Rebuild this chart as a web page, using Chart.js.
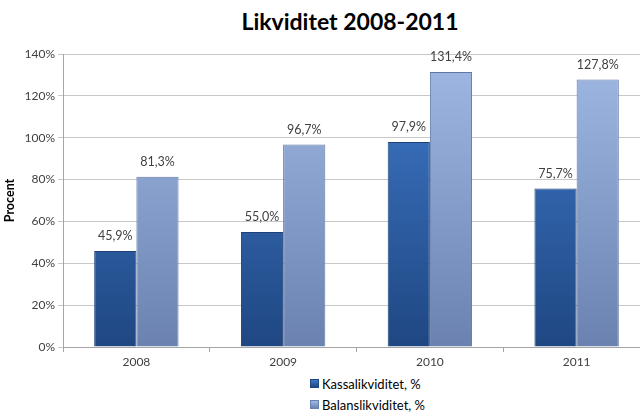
<!DOCTYPE html>
<html>
<head>
<meta charset="utf-8">
<script src="https://cdn.jsdelivr.net/npm/chart.js@4.4.1/dist/chart.umd.min.js"></script>
<style>
  html, body { margin: 0; padding: 0; background: #fff; overflow: hidden; width: 640px; height: 414px; }
  #titel { position: absolute; left: 200px; width: 300px; top: 7px; text-align: center;
    font: bold 23px Lato, "Open Sans", sans-serif; color: #000; }
  #wrap { position: absolute; left: 0; top: 0; width: 650px; height: 372px; }
  #legend { position: absolute; left: 310px; top: 375px; font: 13px Lato, sans-serif; color: #000; }
  #legend div { height: 21px; line-height: 18px; white-space: nowrap; }
  #legend span.box { display: inline-block; width: 7px; height: 7px; margin-right: 3px; vertical-align: 1px; }
</style>
</head>
<body>
<div id="titel">Likviditet 2008-2011</div>
<div id="wrap"><canvas id="chart"></canvas></div>
<div id="legend"></div>
<script>
const kategorier = ["2008", "2009", "2010", "2011"];
const kassalikviditet = [45.9, 55.0, 97.9, 75.7];
const balanslikviditet = [81.3, 96.7, 131.4, 127.8];
const serieNamn = ["Kassalikviditet, %", "Balanslikviditet, %"];
const yTicks = [0, 20, 40, 60, 80, 100, 120, 140];

const fargerTopp = ["#3f7acb", "#9fb9e4"];
const fargerBotten = ["#1f4782", "#6b82b0"];

function gradient(ctx, i) {
  const area = ctx.chart.chartArea;
  if (!area) return fargerTopp[i];
  const g = ctx.chart.ctx.createLinearGradient(0, area.top, 0, area.bottom);
  g.addColorStop(0, fargerTopp[i]);
  g.addColorStop(1, fargerBotten[i]);
  return g;
}

function formatera(v) {
  return v.toFixed(1).replace(".", ",") + "%";
}

const etiketter = {
  id: "etiketter",
  afterDatasetsDraw(chart) {
    const ctx = chart.ctx;
    ctx.save();
    ctx.font = "12.5px Lato, sans-serif";
    ctx.fillStyle = "#404040";
    ctx.textAlign = "center";
    ctx.textBaseline = "middle";
    chart.data.datasets.forEach((ds, i) => {
      chart.getDatasetMeta(i).data.forEach((bar, j) => {
        ctx.fillText(formatera(ds.data[j]), bar.x, bar.y - 15);
      });
    });
    ctx.restore();
  }
};

new Chart(document.getElementById("chart"), {
  type: "bar",
  data: {
    labels: kategorier,
    datasets: [
      { label: serieNamn[0], data: kassalikviditet, backgroundColor: c => gradient(c, 0),
        borderColor: "#1d4178", borderWidth: 1 },
      { label: serieNamn[1], data: balanslikviditet, backgroundColor: c => gradient(c, 1),
        borderColor: "#5f77a6", borderWidth: 1 }
    ]
  },
  options: {
    responsive: true,
    maintainAspectRatio: false,
    animation: false,
    layout: { padding: { top: 54, left: 0, right: 0, bottom: 0 } },
    datasets: { bar: { categoryPercentage: 0.575, barPercentage: 1 } },
    plugins: {
      legend: { display: false },
      tooltip: { enabled: false }
    },
    scales: {
      x: {
        grid: { display: true, drawOnChartArea: false, drawTicks: true, tickLength: 5, color: "#a6a6a6", offset: true },
        border: { color: "#a6a6a6" },
        ticks: { color: "#404040", font: { size: 12, family: "Lato" }, padding: 3 },
        afterFit: s => { s.height = 25; }
      },
      y: {
        min: 0,
        max: 140,
        afterBuildTicks: s => { s.ticks = yTicks.map(v => ({ value: v })); },
        grid: { color: "#c8c8c8", tickLength: 5 },
        border: { color: "#a6a6a6" },
        ticks: { color: "#404040", font: { size: 12, family: "Lato" }, padding: 3, callback: v => v + "%" },
        title: { display: true, text: "Procent", color: "#000", font: { size: 12.5, weight: "bold", family: "Lato" }, padding: 2 },
        afterFit: s => { s.width = 63; }
      }
    }
  },
  plugins: [etiketter]
});

const legend = document.getElementById("legend");
serieNamn.forEach((namn, i) => {
  const rad = document.createElement("div");
  rad.innerHTML = `<span class="box" style="background:linear-gradient(${fargerTopp[i]}, ${fargerBotten[i]});border:1px solid ${fargerBotten[i]}"></span>${namn}`;
  legend.appendChild(rad);
});
</script>
</body>
</html>
